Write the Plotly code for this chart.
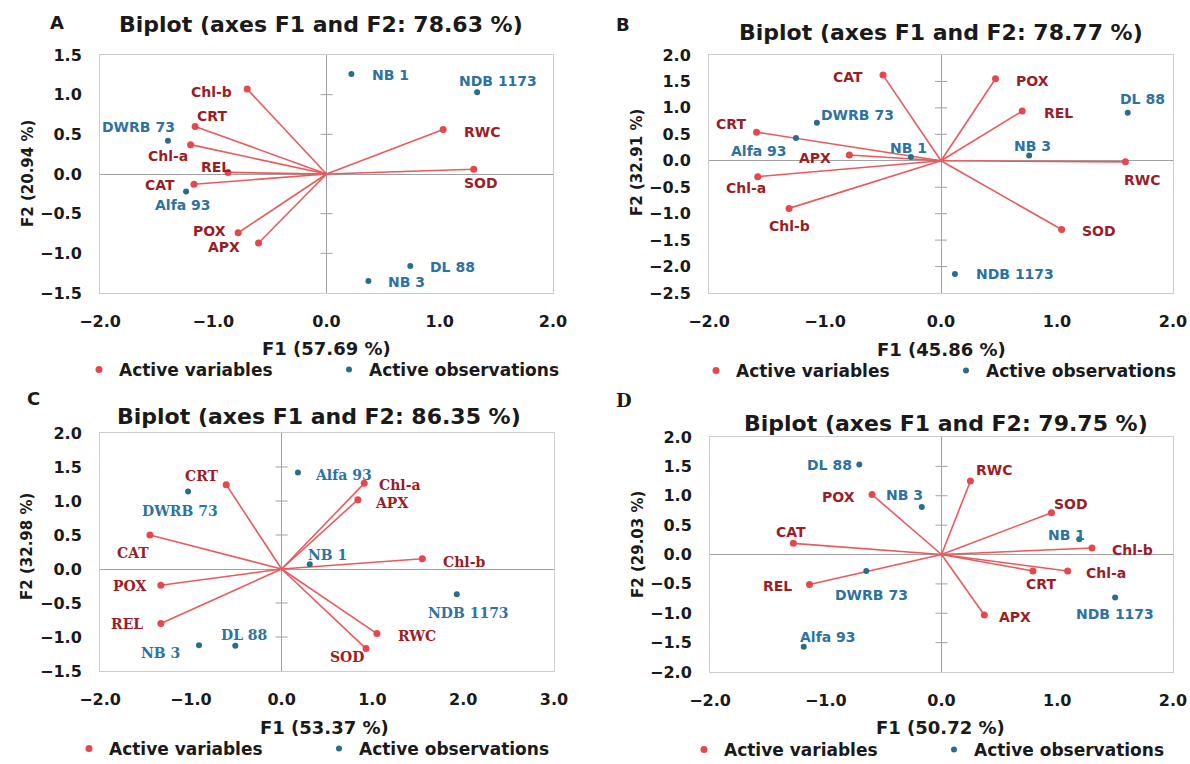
import plotly.graph_objects as go

W, H = 1190, 764

# ---------------- data ----------------
A_title = "Biplot (axes F1 and F2: 78.63 %)"
A_xlabel = "F1 (57.69 %)"
A_ylabel = "F2 (20.94 %)"
A_vars = ["Chl-b", "CRT", "Chl-a", "REL", "CAT", "POX", "APX", "RWC", "SOD"]
A_var_f1 = [-0.70, -1.16, -1.20, -0.87, -1.17, -0.78, -0.60, 1.03, 1.30]
A_var_f2 = [1.07, 0.60, 0.37, 0.02, -0.13, -0.74, -0.87, 0.56, 0.06]
A_obs = ["DWRB 73", "Alfa 93", "NB 1", "NDB 1173", "DL 88", "NB 3"]
A_obs_f1 = [-1.40, -1.24, 0.22, 1.33, 0.74, 0.37]
A_obs_f2 = [0.42, -0.22, 1.26, 1.03, -1.16, -1.35]
A_xticks = [-2.0, -1.0, 0.0, 1.0, 2.0]
A_yticks = [-1.5, -1.0, -0.5, 0.0, 0.5, 1.0, 1.5]

B_title = "Biplot (axes F1 and F2: 78.77 %)"
B_xlabel = "F1 (45.86 %)"
B_ylabel = "F2 (32.91 %)"
B_vars = ["CAT", "CRT", "APX", "Chl-a", "Chl-b", "POX", "REL", "RWC", "SOD"]
B_var_f1 = [-0.50, -1.59, -0.79, -1.58, -1.31, 0.47, 0.70, 1.59, 1.04]
B_var_f2 = [1.62, 0.54, 0.11, -0.30, -0.90, 1.55, 0.94, -0.02, -1.30]
B_obs = ["DWRB 73", "Alfa 93", "NB 1", "NB 3", "DL 88", "NDB 1173"]
B_obs_f1 = [-1.07, -1.25, -0.26, 0.76, 1.61, 0.12]
B_obs_f2 = [0.72, 0.43, 0.07, 0.10, 0.91, -2.14]
B_xticks = [-2.0, -1.0, 0.0, 1.0, 2.0]
B_yticks = [-2.5, -2.0, -1.5, -1.0, -0.5, 0.0, 0.5, 1.0, 1.5, 2.0]

C_title = "Biplot (axes F1 and F2: 86.35 %)"
C_xlabel = "F1 (53.37 %)"
C_ylabel = "F2 (32.98 %)"
C_vars = ["CRT", "CAT", "POX", "REL", "Chl-a", "APX", "Chl-b", "RWC", "SOD"]
C_var_f1 = [-0.61, -1.45, -1.33, -1.33, 0.91, 0.84, 1.55, 1.05, 0.93]
C_var_f2 = [1.24, 0.50, -0.24, -0.80, 1.26, 1.02, 0.15, -0.95, -1.17]
C_obs = ["DWRB 73", "Alfa 93", "NB 1", "NB 3", "DL 88", "NDB 1173"]
C_obs_f1 = [-1.03, 0.18, 0.31, -0.91, -0.51, 1.93]
C_obs_f2 = [1.14, 1.42, 0.07, -1.12, -1.13, -0.37]
C_xticks = [-2.0, -1.0, 0.0, 1.0, 2.0, 3.0]
C_yticks = [-1.5, -1.0, -0.5, 0.0, 0.5, 1.0, 1.5, 2.0]

D_title = "Biplot (axes F1 and F2: 79.75 %)"
D_xlabel = "F1 (50.72 %)"
D_ylabel = "F2 (29.03 %)"
D_vars = ["POX", "CAT", "REL", "RWC", "SOD", "Chl-b", "Chl-a", "CRT", "APX"]
D_var_f1 = [-0.60, -1.28, -1.14, 0.25, 0.95, 1.30, 1.09, 0.79, 0.37]
D_var_f2 = [1.02, 0.19, -0.51, 1.25, 0.71, 0.11, -0.28, -0.28, -1.03]
D_obs = ["DL 88", "NB 3", "DWRB 73", "Alfa 93", "NB 1", "NDB 1173"]
D_obs_f1 = [-0.71, -0.17, -0.65, -1.19, 1.19, 1.50]
D_obs_f2 = [1.53, 0.81, -0.28, -1.57, 0.26, -0.73]
D_xticks = [-2.0, -1.0, 0.0, 1.0, 2.0]
D_yticks = [-2.0, -1.5, -1.0, -0.5, 0.0, 0.5, 1.0, 1.5, 2.0]

LEGEND_NAMES = ["Active variables", "Active observations"]

# ---------------- styles / layout ----------------
# label offsets (pixels right, pixels down) from each point to its label centre
A_var_off = [(-36, 3), (17, -10), (-23, 11), (-12, -5), (-34, 1), (-29, -2), (-35, 4), (39, 2), (7, 14)]
A_obs_off = [(-29, -14), (-3, 14), (39, 1), (21, -11), (42, 1), (38, 1)]
B_var_off = [(-35, 2), (-26, -8), (-34, 3), (-12, 11), (0, 18), (37, 2), (36, 2), (17, 18), (37, 1)]
B_obs_off = [(41, -8), (-37, 13), (-2, -9), (3, -9), (15, -14), (60, 0)]
C_var_off = [(-24, -9), (-17, 18), (-31, 1), (-34, 1), (36, 2), (34, 3), (42, 3), (40, 2), (-19, 8)]
C_obs_off = [(-8, 20), (46, 3), (18, -9), (-38, 8), (9, -11), (12, 19)]
D_var_off = [(-34, 2), (-2, -11), (-32, 2), (24, -11), (20, -9), (41, 2), (38, 2), (8, 13), (31, 2)]
D_obs_off = [(-30, 0), (-17, -12), (5, 24), (24, -10), (-13, -4), (0, 17)]

SANS = "DejaVu Sans"
SERIF = "DejaVu Serif"
VAR_LINE = "#e85a5d"
VAR_MARK = "#e5474c"
VAR_TEXT = "#9b1d26"
OBS_MARK = "#2b6c8c"
OBS_TEXT = "#2e72a2"
FRAME = "#cccccc"
ZERO = "#a0a0a0"
INK = "#1a1a1a"

panels = [
    dict(letter="A", title=A_title, xl=A_xlabel, yl=A_ylabel,
         vars=A_vars, vx=A_var_f1, vy=A_var_f2, obs=A_obs, ox=A_obs_f1, oy=A_obs_f2,
         xt=A_xticks, yt=A_yticks, voff=A_var_off, ooff=A_obs_off,
         box=(100, 553, 55, 293), lab_font=SANS,
         letter_xy=(57, 23), letter_font=SANS, title_xy=(321, 25),
         xl_xy=(326, 348), yl_xy=(28, 174), leg_xy=(98, 370)),
    dict(letter="B", title=B_title, xl=B_xlabel, yl=B_ylabel,
         vars=B_vars, vx=B_var_f1, vy=B_var_f2, obs=B_obs, ox=B_obs_f1, oy=B_obs_f2,
         xt=B_xticks, yt=B_yticks, voff=B_var_off, ooff=B_obs_off,
         box=(709, 1173, 55, 293), lab_font=SANS,
         letter_xy=(623, 24), letter_font=SANS, title_xy=(941, 33),
         xl_xy=(941, 349), yl_xy=(637, 163), leg_xy=(715, 371)),
    dict(letter="C", title=C_title, xl=C_xlabel, yl=C_ylabel,
         vars=C_vars, vx=C_var_f1, vy=C_var_f2, obs=C_obs, ox=C_obs_f1, oy=C_obs_f2,
         xt=C_xticks, yt=C_yticks, voff=C_var_off, ooff=C_obs_off,
         box=(100, 554, 433, 671), lab_font=SERIF,
         letter_xy=(33, 399), letter_font=SANS, title_xy=(319, 417),
         xl_xy=(324, 727), yl_xy=(27, 547), leg_xy=(88, 749)),
    dict(letter="D", title=D_title, xl=D_xlabel, yl=D_ylabel,
         vars=D_vars, vx=D_var_f1, vy=D_var_f2, obs=D_obs, ox=D_obs_f1, oy=D_obs_f2,
         xt=D_xticks, yt=D_yticks, voff=D_var_off, ooff=D_obs_off,
         box=(710, 1173, 437, 672), lab_font=SANS,
         letter_xy=(624, 400), letter_font=SERIF, title_xy=(946, 423),
         xl_xy=(940, 727), yl_xy=(638, 545), leg_xy=(703, 750)),
]


def px_x(v):
    return v / W


def px_y(v):
    return 1 - v / H


def ann(text, xy, font, angle=0):
    return dict(text=text, x=px_x(xy[0]), y=px_y(xy[1]), xref="paper", yref="paper",
                xanchor="center", yanchor="middle", showarrow=False,
                textangle=angle, font=font)


fig = go.Figure()
layout = dict(width=W, height=H, margin=dict(l=0, r=0, t=0, b=0, pad=0, autoexpand=False),
              paper_bgcolor="white", plot_bgcolor="white", showlegend=True,
              annotations=[], shapes=[])

for i, p in enumerate(panels, start=1):
    sfx = "" if i == 1 else str(i)
    xa, ya = "x" + sfx, "y" + sfx
    leg = "legend" + sfx
    l, r, t, b = p["box"]

    axis_common = dict(showline=True, mirror=True, linecolor=FRAME, linewidth=1,
                       zeroline=True, zerolinecolor=ZERO, zerolinewidth=1,
                       showgrid=False, ticks="", tickformat=".1f",
                       tickfont=dict(family=SANS, size=16, color=INK, weight="bold"),
                       fixedrange=True, automargin=False)
    layout["xaxis" + sfx] = dict(axis_common, domain=[px_x(l), px_x(r)],
                                 range=[p["xt"][0], p["xt"][-1]], tickvals=p["xt"],
                                 anchor=ya, ticklabelstandoff=14)
    layout["yaxis" + sfx] = dict(axis_common, domain=[px_y(b), px_y(t)],
                                 range=[p["yt"][0], p["yt"][-1]], tickvals=p["yt"],
                                 anchor=xa, ticklabelstandoff=14)

    # arrows from origin to variables
    lx, ly = [], []
    for vx, vy in zip(p["vx"], p["vy"]):
        lx += [0, vx, None]
        ly += [0, vy, None]
    fig.add_trace(go.Scatter(x=lx, y=ly, mode="lines", xaxis=xa, yaxis=ya,
                             line=dict(color=VAR_LINE, width=1.6),
                             showlegend=False, hoverinfo="skip"))
    fig.add_trace(go.Scatter(x=p["vx"], y=p["vy"], mode="markers", xaxis=xa, yaxis=ya,
                             marker=dict(color=VAR_MARK, size=7),
                             text=p["vars"], hoverinfo="text",
                             name=LEGEND_NAMES[0], legend=leg))
    fig.add_trace(go.Scatter(x=p["ox"], y=p["oy"], mode="markers", xaxis=xa, yaxis=ya,
                             marker=dict(color=OBS_MARK, size=6),
                             text=p["obs"], hoverinfo="text",
                             name=LEGEND_NAMES[1], legend=leg))

    # point labels
    for names, xs, ys, offs, col in ((p["vars"], p["vx"], p["vy"], p["voff"], VAR_TEXT),
                                     (p["obs"], p["ox"], p["oy"], p["ooff"], OBS_TEXT)):
        for nm, xv, yv, (dx, dy) in zip(names, xs, ys, offs):
            layout["annotations"].append(dict(
                text=nm, x=xv, y=yv, xref=xa, yref=ya, xshift=dx, yshift=-dy,
                xanchor="center", yanchor="middle", showarrow=False,
                font=dict(family=p["lab_font"], size=14, color=col, weight="bold")))

    # small cross ticks on the vertical zero axis
    for yv in p["yt"]:
        if yv in (p["yt"][0], p["yt"][-1], 0.0):
            continue
        layout["shapes"].append(dict(type="line", xref=xa, yref=ya, xsizemode="pixel",
                                     xanchor=0, x0=-6, x1=6, y0=yv, y1=yv,
                                     line=dict(color=ZERO, width=1)))
    layout["shapes"].append(dict(type="line", xref=xa, yref=ya, ysizemode="pixel",
                                 yanchor=p["yt"][0], x0=0, x1=0, y0=-5, y1=0,
                                 line=dict(color=ZERO, width=1)))

    # legend (first dot position given)
    cx, cy = p["leg_xy"]
    layout[leg] = dict(orientation="h", x=px_x(cx - 19), xanchor="left",
                       y=px_y(cy), yanchor="middle", bgcolor="rgba(0,0,0,0)",
                       font=dict(family=SANS, size=17, color=INK, weight="bold"),
                       itemsizing="trace", traceorder="normal",
                       entrywidth=205, entrywidthmode="pixels")

    # texts
    layout["annotations"].append(ann(p["letter"], p["letter_xy"],
                                     dict(family=p["letter_font"], size=18, color=INK, weight="bold")))
    layout["annotations"].append(ann(p["title"], p["title_xy"],
                                     dict(family=SANS, size=22, color=INK, weight="bold")))
    layout["annotations"].append(ann(p["xl"], p["xl_xy"],
                                     dict(family=SANS, size=18, color=INK, weight="bold")))
    layout["annotations"].append(ann(p["yl"], p["yl_xy"],
                                     dict(family=SANS, size=15, color=INK, weight="bold"), angle=-90))

fig.update_layout(**layout)
fig.write_html("out.html", config={"displayModeBar": False},
               post_script="document.body.style.margin='0';document.body.style.padding='0';")
